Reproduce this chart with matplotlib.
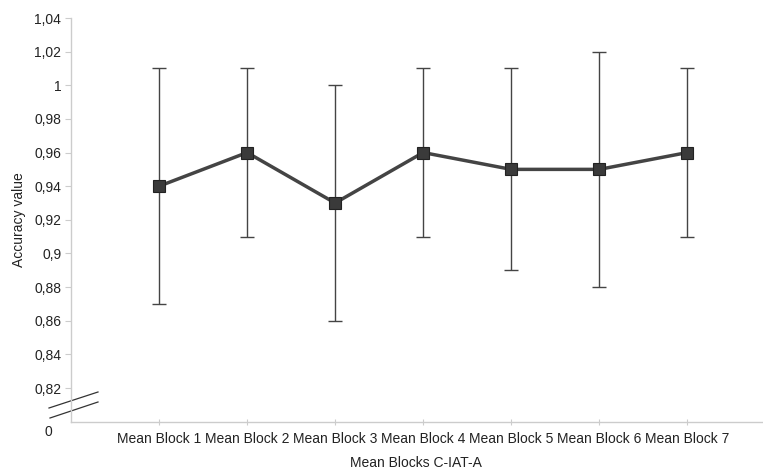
import matplotlib.pyplot as plt
import matplotlib.transforms as mtransforms
import numpy as np

categories = ['Mean Block 1', 'Mean Block 2', 'Mean Block 3', 'Mean Block 4',
              'Mean Block 5', 'Mean Block 6', 'Mean Block 7']
means = [0.94, 0.96, 0.93, 0.96, 0.95, 0.95, 0.96]
upper = [1.01, 1.01, 1.00, 1.01, 1.01, 1.02, 1.01]
lower = [0.87, 0.91, 0.86, 0.91, 0.89, 0.88, 0.91]
yticks = [0.82, 0.84, 0.86, 0.88, 0.90, 0.92, 0.94, 0.96, 0.98, 1.00, 1.02, 1.04]
ytick_labels = ['0,82', '0,84', '0,86', '0,88', '0,9', '0,92', '0,94', '0,96',
                '0,98', '1', '1,02', '1,04']

plt.rcParams['font.family'] = ['Liberation Sans', 'DejaVu Sans']

x = np.arange(1, len(categories) + 1)
m = np.array(means)
err = [m - np.array(lower), np.array(upper) - m]

fig = plt.figure(figsize=(7.63, 4.74), dpi=100)
ax = fig.add_axes([71 / 763, 52 / 474, 1 - 71 / 763, 404 / 474])

ax.errorbar(x, m, yerr=err, fmt='none', ecolor='#444444', elinewidth=1.0,
            capsize=5, capthick=1.0, zorder=2)
ax.plot(x, m, color='#444444', linewidth=2.5, marker='s', markersize=8,
        markerfacecolor='#3a3a3a', markeredgecolor='#222222',
        markeredgewidth=0.8, zorder=3)

ybottom = 0.7998
ax.set_ylim(ybottom, 1.04)
ax.set_xlim(0.0, 7.86)
ax.set_yticks([ybottom] + yticks)
ax.set_yticklabels(['0'] + ytick_labels)
ax.set_xticks(x)
ax.set_xticklabels(categories)

for s in ['top', 'right']:
    ax.spines[s].set_visible(False)
for s in ['left', 'bottom']:
    ax.spines[s].set_color('#cccccc')
    ax.spines[s].set_linewidth(1)
ax.tick_params(axis='y', colors='#cccccc', labelcolor='#222222',
               labelsize=10, length=4, pad=3)
ax.tick_params(axis='x', colors='#cccccc', labelcolor='#222222',
               labelsize=10, length=5, direction='inout', pad=5)
zero_tick = ax.yaxis.get_major_ticks()[0]
zero_tick.tick1line.set_visible(False)
zero_tick.label1.set_transform(zero_tick.label1.get_transform() +
                               mtransforms.ScaledTranslation(-9 / 100, -9 / 100, fig.dpi_scale_trans))

ax.set_ylabel('Accuracy value', fontsize=10, color='#222222')
ax.yaxis.set_label_coords(-45 / 692, 0.5)
ax.set_xlabel('Mean Blocks C-IAT-A', fontsize=10, color='#222222')
ax.xaxis.set_label_coords((416 - 71) / (763 - 71), -34 / 404)

# axis break marks
ax.plot([49 / 763, 98 / 763], [1 - 408 / 474, 1 - 392 / 474], color='#333333',
        linewidth=0.9, transform=fig.transFigure, clip_on=False)
ax.plot([50 / 763, 98 / 763], [1 - 418 / 474, 1 - 402 / 474], color='#333333',
        linewidth=0.9, transform=fig.transFigure, clip_on=False)

fig.savefig('out.png', dpi=100)
